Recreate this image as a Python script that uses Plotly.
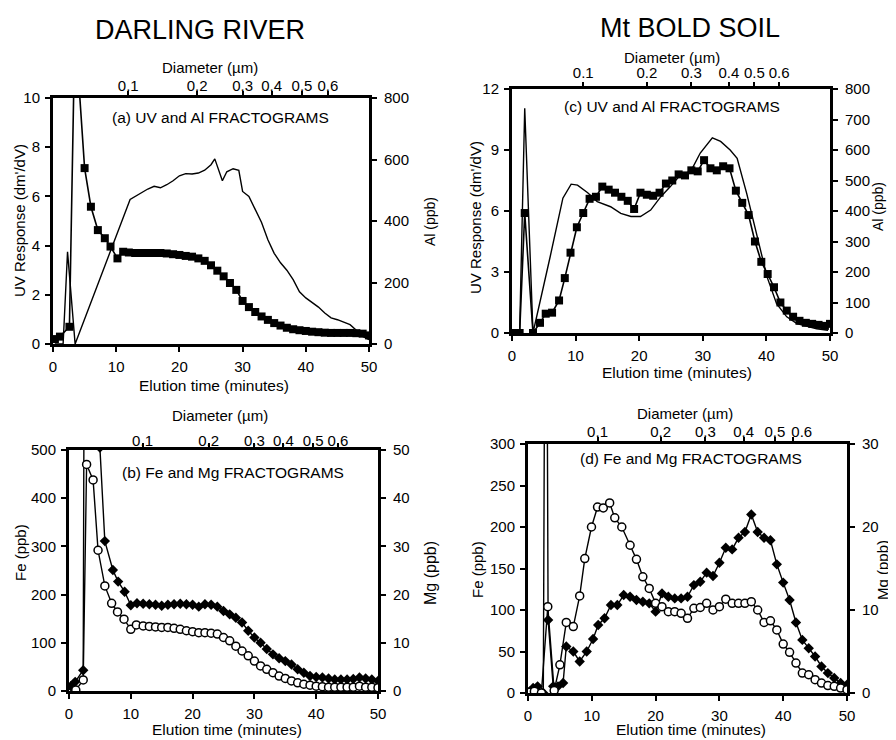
import plotly.graph_objects as go

# page is 896x740; the html body has an 8 px margin, so the figure is offset by 8 px
PAGE_W, PAGE_H, OFF = 896, 740, 8
W, H = PAGE_W - OFF, PAGE_H - OFF
FONT = "Arial, 'Liberation Sans', sans-serif"
NB = "\u00a0"

# ---------------- data ----------------
diam_labels = ["0.1", "0.2", "0.3", "0.4", "0.5", "0.6"]
diam_pos_a = [11.9, 22.8, 30.0, 34.6, 39.4, 43.5]
diam_pos_b = [11.9, 22.6, 30.0, 34.7, 39.5, 43.5]
diam_pos_c = [11.2, 21.2, 28.2, 34.1, 38.1, 42.0]
diam_pos_d = [10.9, 20.8, 27.8, 33.8, 38.7, 41.6]

# (a) Darling River - UV (left axis) and Al (right axis)
a_uv_t = [0.3, 1.1, 2.6, 3.4, 4.2, 5.0, 6.0, 7.1, 8.2, 9.1, 10.2, 11.1,
          12, 13, 14, 15, 16, 17, 18, 19, 20, 21, 22, 23, 24, 25, 26, 27, 28, 29, 30,
          31, 32, 33, 34, 35, 36, 37, 38, 39, 40, 41, 42, 43, 44, 45, 46, 47, 48, 49, 50]
a_uv = [0.2, 0.3, 0.7, 12.0, 10.2, 7.15, 5.58, 4.63, 4.3, 3.96, 3.48, 3.75,
        3.72, 3.7, 3.7, 3.7, 3.7, 3.7, 3.68, 3.65, 3.62, 3.58, 3.55, 3.48, 3.38, 3.2, 2.98,
        2.75, 2.48, 2.2, 1.75, 1.5, 1.3, 1.12, 0.98, 0.85, 0.75, 0.66, 0.6, 0.56, 0.53,
        0.5, 0.48, 0.46, 0.45, 0.45, 0.45, 0.45, 0.44, 0.42, 0.35]
a_al_t = [0.3, 1.6, 2.3, 3.5, 12.2, 13, 14, 15, 16, 17, 18, 19, 20, 21, 22, 23, 24, 25,
          25.6, 26.8, 27.5, 28.5, 29.4, 30, 31, 32, 33, 34, 35, 36, 37, 38, 39, 40, 41,
          42, 43, 44, 45, 46, 47, 48, 49, 50]
a_al = [0, 0, 300, 0, 470, 480, 491, 504, 513, 508, 518, 531, 547, 554, 553, 556, 565, 583,
        602, 531, 560, 570, 565, 496, 480, 437, 395, 339, 295, 264, 240, 209, 170, 150, 135,
        120, 101, 85, 79, 72, 63, 45, 25, 14]

# (b) Darling River - Fe (left axis, filled) and Mg (right axis, open)
b_fe_t = [0.3, 1.0, 2.3, 3.2, 4.2, 5.0, 5.8, 7.1, 7.95, 9.0, 10.0,
          11, 12, 13, 14, 15, 16, 17, 18, 19, 20, 21, 22, 23, 24, 25, 26, 27, 28, 29, 30,
          31, 32, 33, 34, 35, 36, 37, 38, 39, 40, 41, 42, 43, 44, 45, 46, 47, 48, 49, 50]
b_fe = [10, 19, 43, 4000, 2000, 505, 311, 251, 227, 206, 178,
        182, 181, 180, 179, 177, 179, 180, 181, 180, 179, 175, 180, 179, 175, 166, 159, 152,
        142, 125, 111, 100, 87, 76, 68, 62, 55, 45, 38, 31, 29, 28, 26, 24, 24, 24, 25, 28,
        26, 24, 21]
b_mg_t = [1.1, 2.3, 2.85, 3.9, 4.7, 5.8, 6.9, 7.85, 8.9, 10.0, 10.9,
          12, 13, 14, 15, 16, 17, 18, 19, 20, 21, 22, 23, 24, 25, 26, 27, 28, 29, 30,
          31, 32, 33, 34, 35, 36, 37, 38, 39, 40, 41, 42, 43, 44, 45, 46, 47, 48, 49, 50]
b_mg = [0.2, 2.3, 47.0, 43.8, 29.2, 21.8, 18.2, 16.4, 14.9, 12.8, 13.7,
        13.5, 13.4, 13.3, 13.2, 13.2, 13.0, 12.8, 12.5, 12.3, 12.1, 12.1, 12.0, 11.8, 11.1,
        10.4, 9.3, 8.3, 7.3, 6.2, 5.2, 4.5, 3.8, 3.1, 2.6, 2.1, 1.7, 1.4, 1.2, 1.0, 0.9,
        0.8, 0.8, 0.8, 0.8, 0.8, 1.0, 0.8, 0.8, 0.7]

# (c) Mt Bold soil - UV (left axis) and Al (right axis)
c_uv_t = [0.5, 1.2, 2.0, 3.3, 4.4, 5.3, 6.3, 7.4, 8.3, 9.2, 10.2, 11.2, 12.2, 13.2, 14.2,
          15.2, 16.2, 17.2, 18.2, 19.2, 20.2, 21.2, 22.2, 23.2, 24.2, 25.2, 26.2, 27.2,
          28.2, 29.2, 30.2, 31.2, 32.2, 33.2, 34.2, 35.2, 36.2, 37.2, 38.2, 39.2, 40.2,
          41.2, 42.2, 43.2, 44.2, 45.2, 46.2, 47.2, 48.2, 49.2, 50.0]
c_uv = [0, 0, 5.9, 0, 0.5, 0.95, 1.0, 1.6, 2.7, 3.95, 5.2, 5.9, 6.6, 6.7, 7.2,
        7.05, 6.9, 6.7, 6.5, 6.1, 6.9, 6.8, 6.75, 6.9, 7.35, 7.5, 7.8, 7.75,
        8.0, 7.95, 8.5, 8.1, 8.0, 8.2, 8.1, 7.0, 6.4, 5.8, 4.5, 3.5, 2.9,
        2.25, 1.5, 1.1, 0.8, 0.6, 0.5, 0.45, 0.4, 0.35, 0.45]
c_al_t = [0.5, 1.2, 2.0, 3.3, 6.0, 8.0, 9.3, 10.3, 11.9, 13.4, 15.5, 17.1, 18.7, 20.2,
          21.8, 23.4, 24.9, 26.5, 28.1, 29.6, 31.5, 32.8, 34.3, 35.4, 36.9, 38.5, 40.1,
          41.6, 43.2, 44.8, 46.3, 47.9, 49.7]
c_al = [0, 0, 737, 0, 250, 442, 488, 485, 460, 431, 414, 392, 382, 382,
        403, 447, 480, 519, 530, 590, 640, 628, 600, 573, 458, 316, 184,
        96, 53, 31, 22, 14, 9]

# (d) Mt Bold soil - Fe (left axis, filled) and Mg (right axis, open)
d_fe_t = [0.3, 0.8, 1.5, 2.4, 2.8, 3.15, 3.95, 4.7, 5.5, 6.0, 7.1, 8.1, 9.2, 10.2,
          11, 12, 13, 14, 15, 16, 17, 18, 19, 20, 21, 22, 23, 24, 25, 26, 27, 28, 29, 30,
          31, 32, 33, 34, 35, 36, 37, 38, 39, 40, 41, 42, 43, 44, 45, 46, 47, 48, 49, 50]
d_fe = [2, 6, 8, 0, 800, 88, 8, 8, 12, 56, 50, 38, 50, 65,
        82, 90, 106, 106, 118, 116, 112, 110, 108, 98, 120, 116, 114, 114, 116, 130, 134,
        145, 141, 157, 175, 173, 187, 194, 215, 194, 187, 184, 155, 133, 112, 85, 64, 54,
        44, 32, 24, 18, 12, 10]
d_mg_t = [0.3, 1.0, 2.1, 3.1, 4.1, 5.0, 6.0, 7.1, 8.1, 8.9, 9.95, 10.9, 11.8, 12.8,
          13.6, 14.7, 16, 17, 18, 19, 20, 21, 22, 23, 24, 25, 26, 27, 28, 29, 30, 31, 32,
          33, 34, 35, 36, 37, 38, 39, 40, 41, 42, 43, 44, 45, 46, 47, 48, 49, 50]
d_mg = [0.1, 0.2, 0, 10.4, 0.3, 3.4, 8.5, 8.0, 11.7, 16.2, 20.0, 22.4, 22.3, 22.9,
        21.1, 20.0, 17.8, 16.1, 14.0, 12.6, 10.8, 10.4, 9.8, 9.8, 9.6, 9.0, 10.2, 10.3,
        10.8, 10.0, 10.4, 11.3, 10.8, 10.8, 10.8, 11.0, 10.0, 8.5, 8.7, 7.6, 5.9, 4.9,
        3.6, 2.4, 2.2, 1.6, 1.2, 0.9, 0.8, 0.6, 0.4]

# ---------------- layout helpers ----------------
def fx(x):
    return (x - OFF) / W


def fy(y):
    return 1 - (y - OFF) / H


# in (d) the 0.6 label sits to the right of its tick
diam_text_d = diam_labels[:5] + [NB * 4 + diam_labels[5]]

# panel frames in page pixels: (left, right, top, bottom)
panels = [
    dict(box=(53, 369, 98, 344), yl=(0, 10, 2), yr=(0, 800, 200), diam=diam_pos_a,
         dtext=diam_labels, dstand=-6),
    dict(box=(69, 378, 450, 691), yl=(0, 500, 100), yr=(0, 50, 10), diam=diam_pos_b,
         dtext=diam_labels, dstand=-9),
    dict(box=(512, 830, 89, 333), yl=(0, 12, 3), yr=(0, 800, 100), diam=diam_pos_c,
         dtext=diam_labels, dstand=-2),
    dict(box=(528, 847, 444, 693), yl=(0, 300, 50), yr=(0, 30, 10), diam=diam_pos_d,
         dtext=diam_text_d, dstand=-6),
]

fig = go.Figure()
layout = {}

base_axis = dict(showline=True, linecolor="black", linewidth=3, ticks="outside",
                 ticklen=5, tickwidth=1.5, tickcolor="black", showgrid=False,
                 zeroline=False, automargin=False, tickangle=0,
                 tickfont=dict(family=FONT, size=15, color="black"))


def aname(kind, i):
    return kind + ("" if i == 1 else str(i))


for k, p in enumerate(panels):
    l, r, t, b = p["box"]
    xb, xt, yl, yr = 2 * k + 1, 2 * k + 2, 2 * k + 1, 2 * k + 2
    layout[aname("xaxis", xb)] = dict(base_axis, domain=[fx(l), fx(r)], range=[0, 50],
                                      tickvals=[0, 10, 20, 30, 40, 50], side="bottom",
                                      anchor=aname("y", yl), ticklabelstandoff=2)
    layout[aname("xaxis", xt)] = dict(base_axis, overlaying=aname("x", xb), range=[0, 50],
                                      tickvals=p["diam"], ticktext=p["dtext"], side="top",
                                      anchor=aname("y", yl), ticklen=4,
                                      ticklabelstandoff=p["dstand"],
                                      tickfont=dict(family=FONT, size=15, color="black"))
    lo, hi, dt = p["yl"]
    layout[aname("yaxis", yl)] = dict(base_axis, domain=[fy(b), fy(t)], range=[lo, hi],
                                      dtick=dt, side="left", anchor=aname("x", xb),
                                      ticklabelstandoff=2)
    lo, hi, dt = p["yr"]
    layout[aname("yaxis", yr)] = dict(base_axis, overlaying=aname("y", yl), range=[lo, hi],
                                      dtick=dt, side="right", anchor=aname("x", xb),
                                      ticklabelstandoff=4,
                                      tickfont=dict(family=FONT, size=15, color="black"))
    # empty trace so the top diameter axis is drawn
    fig.add_trace(go.Scatter(x=[], y=[], xaxis=aname("x", xt), yaxis=aname("y", yl),
                             showlegend=False, hoverinfo="skip"))


def ax(k):
    return aname("x", 2 * k + 1), aname("y", 2 * k + 1), aname("y", 2 * k + 2)


# (a)
xa, ya1, ya2 = ax(0)
fig.add_trace(go.Scatter(x=a_al_t, y=a_al, mode="lines", line=dict(color="black", width=1.4),
                         xaxis=xa, yaxis=ya2, name="Al"))
fig.add_trace(go.Scatter(x=a_uv_t, y=a_uv, mode="lines+markers",
                         line=dict(color="black", width=1.6),
                         marker=dict(symbol="square", size=8, color="black"),
                         xaxis=xa, yaxis=ya1, name="UV"))
# (b)
xb_, yb1, yb2 = ax(1)
fig.add_trace(go.Scatter(x=b_fe_t, y=b_fe, mode="lines+markers",
                         line=dict(color="black", width=1.4),
                         marker=dict(symbol="diamond", size=8, color="black"),
                         xaxis=xb_, yaxis=yb1, name="Fe"))
fig.add_trace(go.Scatter(x=b_mg_t, y=b_mg, mode="lines+markers",
                         line=dict(color="black", width=1.4),
                         marker=dict(symbol="circle", size=8, color="white",
                                     line=dict(color="black", width=1.5)),
                         xaxis=xb_, yaxis=yb2, name="Mg"))
# (c)
xc, yc1, yc2 = ax(2)
fig.add_trace(go.Scatter(x=c_al_t, y=c_al, mode="lines", line=dict(color="black", width=1.4),
                         xaxis=xc, yaxis=yc2, name="Al"))
fig.add_trace(go.Scatter(x=c_uv_t, y=c_uv, mode="lines+markers",
                         line=dict(color="black", width=1.6),
                         marker=dict(symbol="square", size=8, color="black"),
                         xaxis=xc, yaxis=yc1, name="UV"))
# (d)
xd, yd1, yd2 = ax(3)
fig.add_trace(go.Scatter(x=d_fe_t, y=d_fe, mode="lines+markers",
                         line=dict(color="black", width=1.4),
                         marker=dict(symbol="diamond", size=8, color="black"),
                         xaxis=xd, yaxis=yd1, name="Fe"))
fig.add_trace(go.Scatter(x=d_mg_t, y=d_mg, mode="lines+markers",
                         line=dict(color="black", width=1.4),
                         marker=dict(symbol="circle", size=8, color="white",
                                     line=dict(color="black", width=1.5)),
                         xaxis=xd, yaxis=yd2, name="Mg"))

# ---------------- texts ----------------
texts = [
    # (text, x px, y px, size, angle)
    ("DARLING RIVER", 200, 30, 27, 0),
    ("Mt BOLD SOIL", 690, 28, 27, 0),
    ("UV Response (dm'/dV)", 20, 221, 15, -90),
    ("Al (ppb)", 430, 222, 14, -90),
    ("Elution time (minutes)", 214, 385, 15.5, 0),
    ("Diameter (µm)", 210, 67, 15, 0),
    ("(a) UV and Al FRACTOGRAMS", 220, 117, 15.5, 0),
    ("Fe (ppb)", 20, 553, 15, -90),
    ("Mg (ppb)", 430, 573, 16, -90),
    ("Elution time (minutes)", 227, 729, 15.5, 0),
    ("Diameter (µm)", 220, 415, 15, 0),
    ("(b) Fe and Mg FRACTOGRAMS", 233, 472, 15.5, 0),
    ("UV Response (dm'/dV)", 475, 218, 15, -90),
    ("Al (ppb)", 878, 207, 14, -90),
    ("Elution time (minutes)", 677, 373, 15.5, 0),
    ("Diameter (µm)", 672, 57, 15, 0),
    ("(c) UV and Al FRACTOGRAMS", 672, 106, 15.5, 0),
    ("Fe (ppb)", 477, 570, 15, -90),
    ("Mg (ppb)", 882, 570, 15, -90),
    ("Elution time (minutes)", 691, 729, 15.5, 0),
    ("Diameter (µm)", 685, 413, 15, 0),
    ("(d) Fe and Mg FRACTOGRAMS", 691, 458, 15.5, 0),
]
annotations = []
for txt, x, y, s, ang in texts:
    annotations.append(dict(text=txt, x=fx(x), y=fy(y), xref="paper", yref="paper",
                            xanchor="center", yanchor="middle", showarrow=False,
                            textangle=ang, font=dict(family=FONT, size=s, color="black")))

fig.update_layout(**layout)
fig.update_layout(width=W, height=H, margin=dict(l=0, r=0, t=0, b=0),
                  paper_bgcolor="white", plot_bgcolor="white", showlegend=False,
                  annotations=annotations, font=dict(family=FONT, color="black"))

fig.write_html("out.html")
